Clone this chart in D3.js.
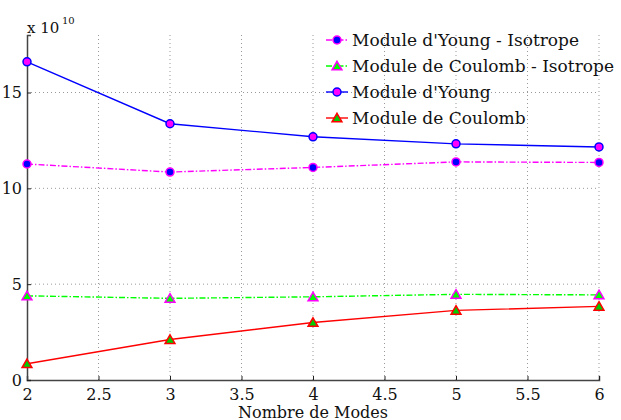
<!DOCTYPE html>
<html>
<head>
<meta charset="utf-8">
<script src="https://cdn.jsdelivr.net/npm/d3@7"></script>
<style>
  body { margin: 0; background: #fff; }
  text { font-family: "DejaVu Serif", "Liberation Serif", serif; fill: #111; }
</style>
</head>
<body>
<svg id="chart" width="621" height="420"></svg>
<script>
// nombre de modes
const modes = [2, 3, 4, 5, 6]
// values in units of 1e10
const young_iso = [11.27, 10.85, 11.09, 11.38, 11.35]
const coulomb_iso = [4.39, 4.26, 4.34, 4.47, 4.44]
const young = [16.6, 13.37, 12.69, 12.32, 12.16]
const coulomb = [0.85, 2.11, 3.0, 3.63, 3.84]
const xticks = [2, 2.5, 3, 3.5, 4, 4.5, 5, 5.5, 6]
const yticks = [0, 5, 10, 15]

const series = [
  { name: "Module d'Young - Isotrope", values: young_iso, color: "#ff00ff", dash: "6,2,1.5,2", marker: "circle", fill: "#0000ff", edge: "#ff00ff" },
  { name: "Module de Coulomb - Isotrope", values: coulomb_iso, color: "#00ff00", dash: "6,2,1.5,2", marker: "triangle", fill: "#00ff00", edge: "#ff00ff" },
  { name: "Module d'Young", values: young, color: "#0000ff", dash: null, marker: "circle", fill: "#ff00ff", edge: "#0000ff" },
  { name: "Module de Coulomb", values: coulomb, color: "#ff0000", dash: null, marker: "triangle", fill: "#00cc00", edge: "#ff0000" }
]

const svg = d3.select("#chart")
const m_left = 27, m_right = 599, m_top = 35, m_bottom = 380

const x = d3.scaleLinear().domain([2, 6]).range([m_left, m_right])
const y = d3.scaleLinear().domain([0, 18]).range([m_bottom, m_top])

// grid
const grid = svg.append("g")
grid.selectAll(".vg").data(xticks.slice(1)).enter().append("line")
  .attr("x1", d => x(d)).attr("x2", d => x(d))
  .attr("y1", m_top).attr("y2", m_bottom)
  .attr("stroke", "#999").attr("stroke-width", 1).attr("stroke-dasharray", "1,3")
grid.selectAll(".hg").data(yticks.slice(1)).enter().append("line")
  .attr("x1", m_left).attr("x2", m_right)
  .attr("y1", d => y(d)).attr("y2", d => y(d))
  .attr("stroke", "#999").attr("stroke-width", 1).attr("stroke-dasharray", "1,3")

// axes
const xAxis = d3.axisBottom(x).tickValues(xticks).tickSize(-4).tickFormat(d3.format("~g"))
const gx = svg.append("g").attr("transform", `translate(0,${m_bottom})`).call(xAxis)
gx.select(".domain").attr("stroke", "#444").attr("stroke-width", 1.5)
gx.selectAll(".tick line").attr("stroke", "#222")
gx.selectAll(".tick text").attr("y", 9).attr("dy", "0.71em").style("font-size", "16px")

const yAxis = d3.axisLeft(y).tickValues(yticks).tickSize(-4)
const gy = svg.append("g").attr("transform", `translate(${m_left},0)`).call(yAxis)
gy.select(".domain").attr("stroke", "#444").attr("stroke-width", 1.5)
gy.selectAll(".tick line").attr("stroke", "#222")
gy.selectAll(".tick text").attr("x", -5).style("font-size", "16px")

svg.append("text").attr("x", 27).attr("y", 33).style("font-size", "15px").text("x 10")
svg.append("text").attr("x", 62).attr("y", 24).style("font-size", "10px").text("10")

svg.append("text").attr("x", 313).attr("y", 418).attr("text-anchor", "middle")
  .style("font-size", "16px").text("Nombre de Modes")

const line = d3.line().x((d, i) => x(modes[i])).y(d => y(d))
const tri = d3.symbol().type(d3.symbolTriangle).size(42)

const drawMarker = function (g, s, cx, cy) {
  if (s.marker == "circle") {
    g.append("circle").attr("cx", cx).attr("cy", cy).attr("r", 4)
      .attr("fill", s.fill).attr("stroke", s.edge).attr("stroke-width", 1.5)
  } else {
    g.append("path").attr("d", tri()).attr("transform", `translate(${cx},${cy + 1})`)
      .attr("fill", s.fill).attr("stroke", s.edge).attr("stroke-width", 1.5)
  }
}

series.forEach(s => {
  const g = svg.append("g")
  g.append("path").datum(s.values).attr("d", line)
    .attr("fill", "none").attr("stroke", s.color).attr("stroke-width", 1.4)
    .attr("stroke-dasharray", s.dash)
  s.values.forEach((v, i) => drawMarker(g, s, x(modes[i]), y(v)))
})

// legend
const lg = svg.append("g")
series.forEach((s, i) => {
  const ly = 40 + i * 26
  lg.append("line").attr("x1", 326).attr("x2", 348).attr("y1", ly).attr("y2", ly)
    .attr("stroke", s.color).attr("stroke-width", 1.4).attr("stroke-dasharray", s.dash)
  drawMarker(lg, s, 337, ly)
  lg.append("text").attr("x", 352).attr("y", ly + 6).style("font-size", "17px").text(s.name)
})
</script>
</body>
</html>
